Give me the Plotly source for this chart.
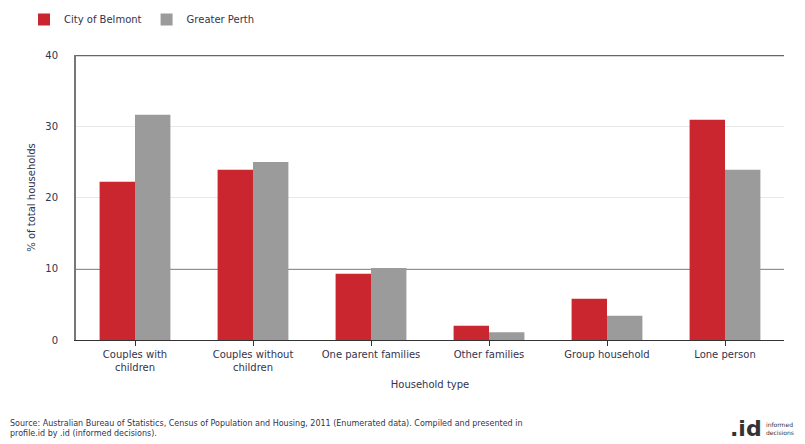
import plotly.graph_objects as go

categories = [
    "Couples with<br>children",
    "Couples without<br>children",
    "One parent families",
    "Other families",
    "Group household",
    "Lone person",
]
belmont = [22.2, 23.9, 9.3, 2.0, 5.8, 30.9]
perth = [31.6, 25.0, 10.1, 1.1, 3.4, 23.9]
y_ticks = [0, 10, 20, 30, 40]

TEXT = "#33334d"
FONT = "DejaVu Sans, Verdana, sans-serif"

# page body adds an 8px margin, so the figure is drawn 8px in from the window
OFF = 8
W, H = 805 - OFF, 444 - OFF
L, R, T, B = 76 - OFF, 21, 55 - OFF, 444 - 340
PW, PH = W - L - R, H - T - B


def px_x(x):
    # reference window pixel x -> paper coordinate
    return (x - OFF - L) / PW


def px_y(y):
    # reference window pixel y (from top) -> paper coordinate
    return (H - B - (y - OFF)) / PH


fig = go.Figure()
fig.add_trace(go.Bar(
    x=categories, y=belmont, name="City of Belmont",
    marker=dict(color="#c9262f", line=dict(width=0)),
))
fig.add_trace(go.Bar(
    x=categories, y=perth, name="Greater Perth",
    marker=dict(color="#9b9b9b", line=dict(width=0)),
))

# heavy reference line at 10 and top border at 40
fig.add_hline(y=10, line=dict(color="#222222", width=1.5), layer="below")
fig.add_hline(y=40, line=dict(color="#666666", width=2.5), layer="below")

fig.update_layout(
    width=W, height=H,
    barmode="group", bargap=0.4, bargroupgap=0,
    plot_bgcolor="white", paper_bgcolor="white",
    margin=dict(l=L, r=R, t=T, b=B, autoexpand=False),
    font=dict(family=FONT, size=10, color=TEXT),
    showlegend=True,
    legend=dict(orientation="h", x=px_x(24), y=px_y(5), yanchor="top",
                xanchor="left", font=dict(size=10, color=TEXT),
                itemsizing="constant", itemwidth=30),
    xaxis=dict(
        title=dict(text="Household type", font=dict(size=10, color=TEXT), standoff=8),
        showline=True, linecolor="#333333", linewidth=1,
        ticks="outside", ticklen=5, tickcolor="#333333",
        tickfont=dict(size=10, color=TEXT), automargin=False,
    ),
    yaxis=dict(
        title=dict(text="% of total households", font=dict(size=10, color=TEXT), standoff=8),
        range=[0, 40], tickvals=y_ticks,
        showgrid=True, gridcolor="#e8e8e8", gridwidth=1,
        showline=True, linecolor="#777777", linewidth=2,
        zeroline=True, zerolinecolor="#333333", zerolinewidth=1,
        ticks="", ticklabelstandoff=14,
        tickfont=dict(size=10, color=TEXT), automargin=False,
    ),
)

fig.add_annotation(
    x=px_x(8), y=px_y(440), xref="paper", yref="paper", xanchor="left", yanchor="bottom",
    showarrow=False, align="left",
    font=dict(size=8, color=TEXT),
    text=("Source: Australian Bureau of Statistics, Census of Population and Housing, 2011 (Enumerated data). "
          "Compiled and presented in<br>profile.id by .id (informed decisions)."),
)
fig.add_annotation(
    x=px_x(764), y=px_y(443), xref="paper", yref="paper", xanchor="right", yanchor="bottom",
    showarrow=False,
    text="<b>.id</b>", font=dict(size=22, color="#333333"),
)
fig.add_annotation(
    x=px_x(764), y=px_y(438), xref="paper", yref="paper", xanchor="left", yanchor="bottom",
    showarrow=False, align="left",
    text="informed<br>decisions", font=dict(size=6, color="#333333"),
)

fig.write_html("out.html")
